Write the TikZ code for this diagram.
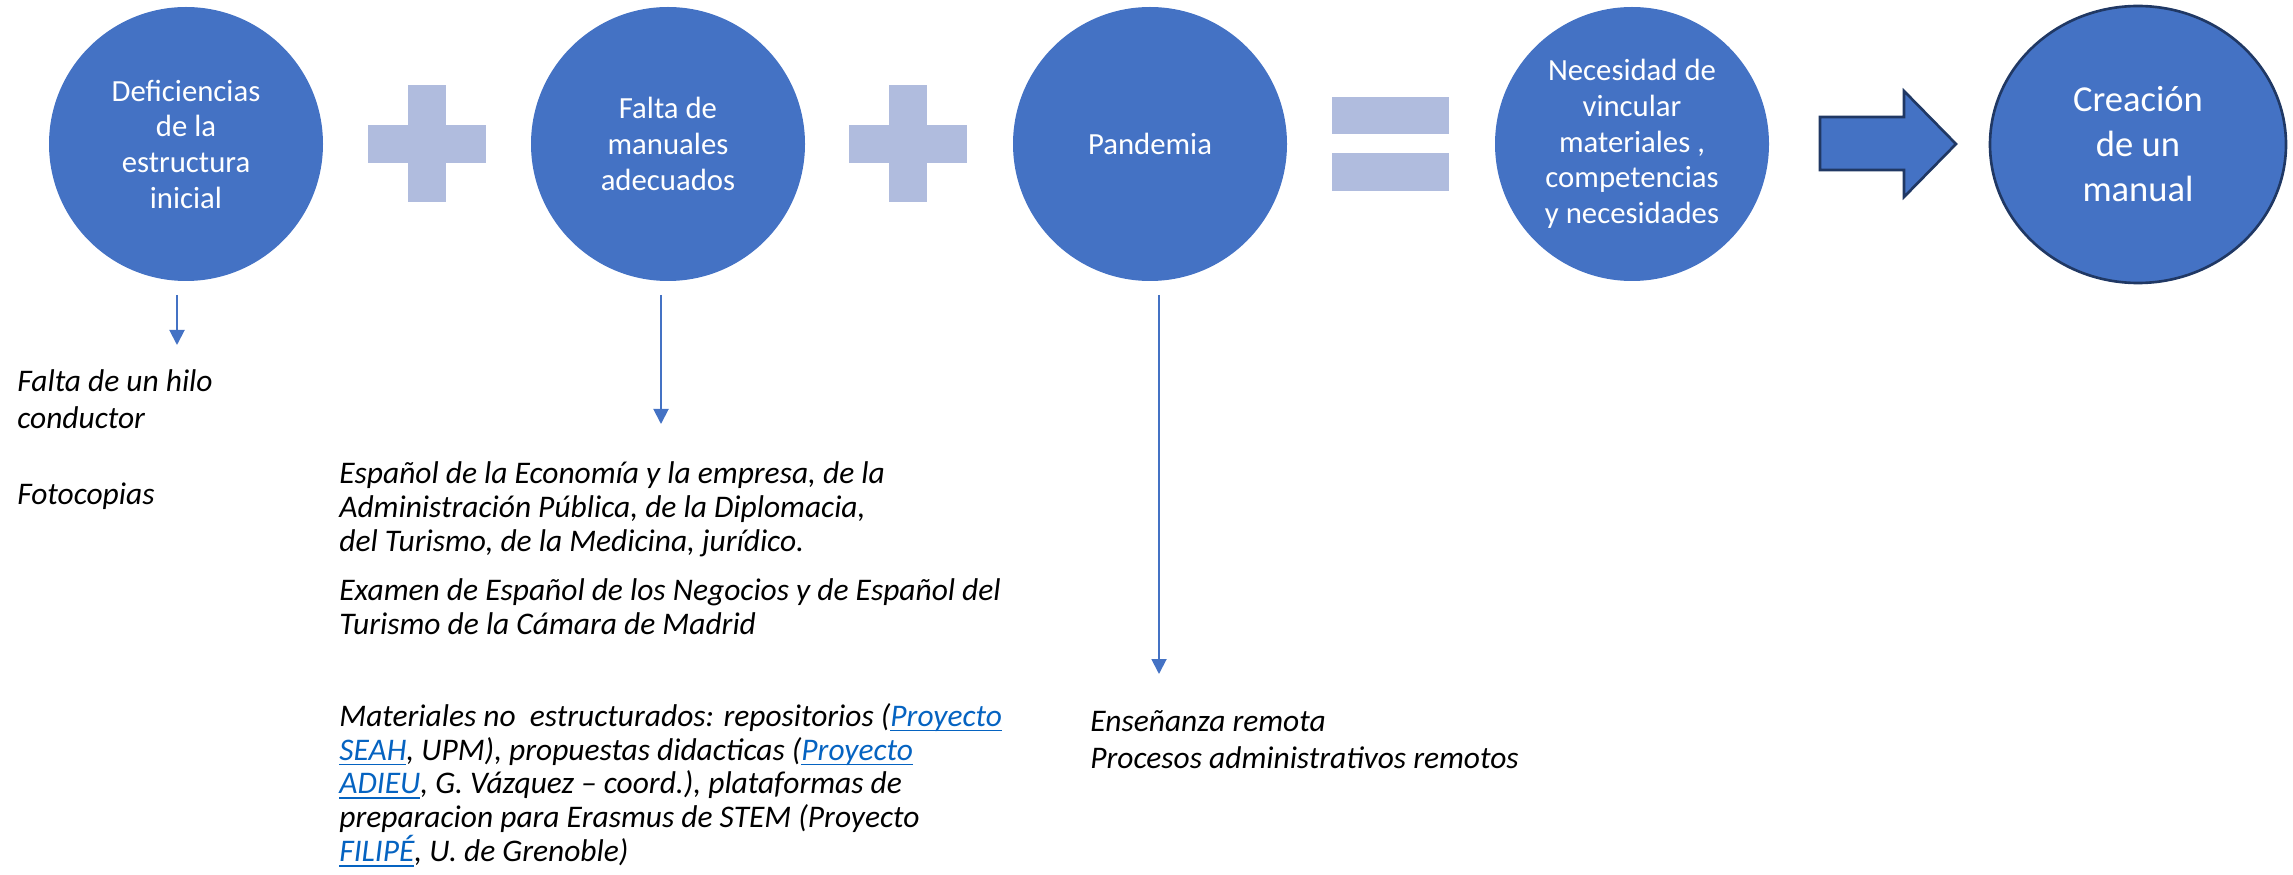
\documentclass[tikz,border=0pt]{standalone}
\usepackage{fontspec}
\setmainfont{Carlito}
\usepackage{tikz}
\usetikzlibrary{positioning, arrows.meta, shapes.geometric}

\definecolor{circblue}{RGB}{68,114,196}
\definecolor{opblue}{RGB}{176,188,222}
\definecolor{edgeblue}{RGB}{32,56,100}
\definecolor{linkblue}{RGB}{5,99,193}

\newcommand{\lnk}[1]{\textcolor{linkblue}{\setbox0=\hbox{#1}\rlap{\rule[-2.9pt]{\wd0}{0.9pt}}\box0}}

\begin{document}
\begin{tikzpicture}[
    bubble/.style={circle, fill=circblue, minimum size=5.48cm, inner sep=0pt,
                   align=center, text=white, font=\fontsize{17.5}{20.3}\selectfont},
    bigbubble/.style={ellipse, fill=circblue, draw=edgeblue, line width=1.5pt,
                   minimum width=5.92cm, minimum height=5.54cm, inner sep=0pt,
                   align=center, text=white, font=\fontsize{20.8}{25.6}\selectfont},
    bar/.style={rectangle, fill=opblue, inner sep=0pt},
    arrow/.style={-{Triangle[length=3mm, width=3mm]}, draw=circblue, line width=1.1pt},
    note/.style={anchor=west, align=left, inner sep=0pt,
                 font=\fontsize{17.9}{19.3}\selectfont\itshape}
]
    \useasboundingbox (0,0) rectangle (45.86,-17.5);

    % Causes
    \node[bubble] (defic) at (3.72,-2.88) {Deficiencias\\de la\\estructura\\inicial};
    \node[bubble] (manuales) at (13.36,-2.88) {Falta de\\manuales\\adecuados};
    \node[bubble] (pandemia) at (23.0,-2.88) {Pandemia};

    % Plus signs
    \node[bar, minimum width=2.36cm, minimum height=0.76cm] (plusAh) at (8.54,-2.88) {};
    \node[bar, minimum width=0.76cm, minimum height=2.34cm] (plusAv) at (8.54,-2.87) {};
    \node[bar, minimum width=2.36cm, minimum height=0.76cm] (plusBh) at (18.16,-2.88) {};
    \node[bar, minimum width=0.76cm, minimum height=2.34cm] (plusBv) at (18.16,-2.87) {};

    % Equals sign
    \node[bar, minimum width=2.34cm, minimum height=0.75cm] (eqtop) at (27.81,-2.31) {};
    \node[bar, minimum width=2.34cm, minimum height=0.75cm] (eqbot) at (27.81,-3.44) {};

    % Result
    \node[bubble] (necesidad) at (32.64,-2.88)
        {Necesidad de\\vincular\\materiales ,\\competencias\\y necesidades};
    \draw[fill=circblue, draw=edgeblue, line width=1.5pt, line join=miter]
        (36.4,-2.34) -- (38.08,-2.34) -- (38.08,-1.82) -- (39.12,-2.88)
        -- (38.08,-3.94) -- (38.08,-3.40) -- (36.4,-3.40) -- cycle;
    \node[bigbubble] (creacion) at (42.76,-2.89) {Creación\\de un\\manual};

    % Down arrows
    \coordinate (d1s) at (3.54,-5.90);
    \coordinate (d1e) at (3.54,-6.90);
    \coordinate (d2s) at (13.22,-5.90);
    \coordinate (d2e) at (13.22,-8.48);
    \coordinate (d3s) at (23.18,-5.90);
    \coordinate (d3e) at (23.18,-13.48);
    \draw[arrow] (d1s) -- (d1e);
    \draw[arrow] (d2s) -- (d2e);
    \draw[arrow] (d3s) -- (d3e);

    % Notes
    \node[note, font=\fontsize{17.9}{21.5}\selectfont\itshape] (hilo) at (0.34,-8.79)
        {Falta de un hilo\\conductor\\[21.5pt]Fotocopias};
    \node[note] (espanol) at (6.78,-10.18)
        {Español de la Economía y la empresa, de la\\Administración Pública, de la Diplomacia,\\del Turismo, de la Medicina, jurídico.};
    \node[note] (examen) at (6.78,-12.14)
        {Examen de Español de los Negocios y de Español del\\Turismo de la Cámara de Madrid};
    \node[note] (materiales) at (6.78,-15.70)
        {Materiales no\ \ estructurados: repositorios (\lnk{Proyecto}\\\lnk{SEAH}, UPM), propuestas didacticas (\lnk{Proyecto}\\\lnk{ADIEU}, G. Vázquez – coord.), plataformas de\\preparacion para Erasmus de STEM (Proyecto\\\lnk{FILIPÉ}, U. de Grenoble)};
    \node[note, font=\fontsize{17.9}{21}\selectfont\itshape] (remota) at (21.8,-14.79)
        {Enseñanza remota\\Procesos administrativos remotos};

\end{tikzpicture}
\end{document}
